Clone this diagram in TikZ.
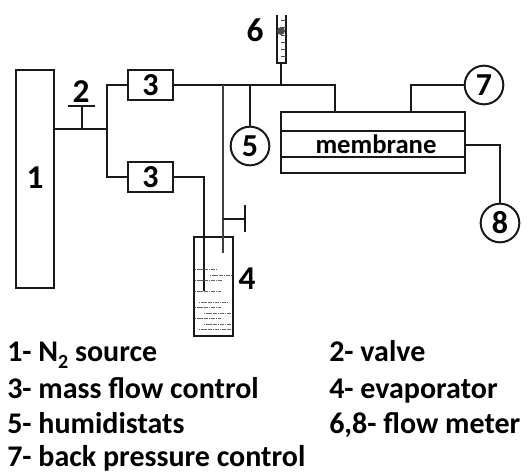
\documentclass[tikz,border=0pt]{standalone}
\usepackage{fontspec}
\setmainfont{Carlito}
\tikzset{
  pipe/.style={line width=1.5pt,black!90},
  blockbox/.style={draw=black!90,line width=1.6pt,fill=white,inner sep=0pt,minimum width=33.75pt,minimum height=23pt,font=\bfseries\fontsize{24}{24}\selectfont},
  ring/.style={draw=black!90,line width=1.5pt,circle,inner sep=0pt,minimum size=29pt,font=\bfseries\fontsize{24}{24}\selectfont},
  numlabel/.style={inner sep=0pt,font=\bfseries\fontsize{25}{25}\selectfont},
  legend/.style={inner sep=0pt,anchor=base west,font=\bfseries\fontsize{22.5}{24}\selectfont},
  liquid/.style={line width=0.75pt,black!60,dash pattern=on 1pt off 0.3pt},
  tick/.style={line width=0.7pt,black!70}
}
\begin{document}
\begin{tikzpicture}[x=0.75pt,y=-0.75pt]
\useasboundingbox (0,0) rectangle (528,474);
% source
\node[draw=black!90,line width=1.6pt,minimum width=28.5pt,minimum height=163.5pt,inner sep=0pt] (src) at (35,179) {};
\node[numlabel] (n1) at (35,178) {1};
% branch
\coordinate (jv) at (107,129);
\coordinate (vstem) at (82,129);
\coordinate (vtop) at (82,106);
\coordinate (vbl) at (68,106);
\coordinate (vbr) at (95,106);
\draw[pipe] (src.east |- jv) -- (jv);
\draw[pipe] (vstem) -- (vtop);
\draw[pipe] (vbl) -- (vbr);
\node[numlabel] (n2) at (81,92) {2};
% mass flow
\node[blockbox] (m1) at (150.5,85) {3};
\node[blockbox] (m2) at (150.5,177) {3};
\draw[pipe] (m1.west) -| (jv) |- (m2.west);
% membrane
\node[draw=black!90,line width=1.6pt,minimum width=138pt,minimum height=45.5pt,inner sep=0pt] (mem) at (373,142.5) {};
\coordinate (memA) at (281,131.5);
\coordinate (memB) at (465,131.5);
\coordinate (memC) at (281,157);
\coordinate (memD) at (465,157);
\draw[pipe] (memA) -- (memB);
\draw[pipe] (memC) -- (memD);
\node[inner sep=0pt,font=\bfseries\fontsize{20}{20}\selectfont] (memtxt) at (376,144) {membrane};
% main line
\coordinate (mt) at (335,112);
\coordinate (mc) at (335,85);
\draw[pipe] (m1.east) -- (mc) -- (mt);
% humidistat
\node[ring] (h5) at (250,146) {5};
\coordinate (h5t) at (250,85);
\draw[pipe] (h5t) -- (h5.north);
% flow meter 6
\coordinate (fmL) at (276.5,15);
\coordinate (fmLb) at (276.5,63);
\coordinate (fmR) at (286,15);
\coordinate (fmRb) at (286,63);
\coordinate (fmS) at (281,63);
\coordinate (fmJ) at (281,85);
\draw[pipe] (fmL) -- (fmLb) -- (fmRb) -- (fmR);
\draw[pipe] (fmS) -- (fmJ);
\foreach \yy in {20,27,35,42,49,56}
  \draw[tick] (281,\yy) -- (286,\yy);
\node[circle,fill=black!70,minimum size=6pt,inner sep=0pt] (ball) at (281,31) {};
\node[numlabel] (n6) at (255,30) {6};
% 7
\node[ring] (r7) at (484,85) {7};
\coordinate (l7) at (411,112);
\draw[pipe] (l7) |- (r7.west);
% 8
\node[ring] (r8) at (500,223) {8};
\coordinate (l8) at (465,145);
\draw[pipe] (l8) -| (r8.north);
% evaporator
\node[draw=black!90,line width=1.6pt,minimum width=29.5pt,minimum height=74pt,inner sep=0pt] (evap) at (213.5,286.5) {};
\coordinate (inA) at (204,291);
\coordinate (inB) at (223,253);
\coordinate (inBt) at (223,85);
\draw[pipe] (m2.east) -| (inA);
\draw[pipe,black!75] (inBt) -- (inB);
\coordinate (sv) at (223,219);
\coordinate (sve) at (245,219);
\coordinate (svt) at (245,205);
\coordinate (svb) at (245,232);
\draw[pipe] (sv) -- (sve);
\draw[pipe] (svt) -- (svb);
\node[numlabel] (n4) at (247,279) {4};
\foreach \yy/\xa/\xb in {269/195/216,275/210/231,280/195/222,291/195/221,302/199/227,307/195/221,313/204/231,318/195/221,324/204/231,329/199/231}
  \draw[liquid] (\xa,\yy) -- (\xb,\yy);
% legend
\node[legend] (t1) at (7,361) {1- N\raisebox{-0.25em}{\fontsize{15}{15}\selectfont 2} source};
\node[legend] (t2) at (329,361) {2- valve};
\node[legend] (t3) at (7,398) {3- mass flow control};
\node[legend] (t4) at (329,398) {4- evaporator};
\node[legend] (t5) at (7,433) {5- humidistats};
\node[legend] (t6) at (329,433) {6,8- flow meter};
\node[legend] (t7) at (7,466) {7- back pressure control};
\end{tikzpicture}
\end{document}
